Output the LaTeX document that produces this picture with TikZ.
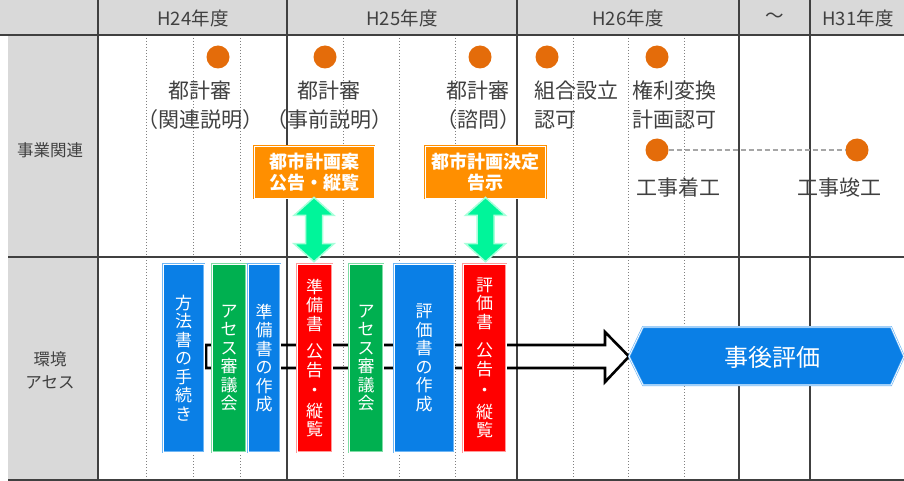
\documentclass[tikz,border=0pt]{standalone}
\usepackage{fontspec}
\setmainfont{Noto Sans CJK JP}
\usetikzlibrary{calc}
\definecolor{bggray}{HTML}{D9D9D9}
\definecolor{gridc}{HTML}{404040}
\definecolor{dotc}{HTML}{808080}
\definecolor{txtc}{HTML}{404040}
\definecolor{dotorange}{HTML}{E46C0A}
\definecolor{boxorange}{HTML}{FF8F00}
\definecolor{garrowf}{HTML}{00F59A}
\definecolor{garrowd}{HTML}{A8FFDA}
\definecolor{boxblue}{HTML}{0A7FE6}
\definecolor{rimblue}{HTML}{6EB6F5}
\definecolor{boxred}{HTML}{FF0000}
\definecolor{rimred}{HTML}{FF9A9A}
\definecolor{boxgreen}{HTML}{00B050}
\definecolor{rimgreen}{HTML}{7FDCA5}
\definecolor{dashc}{HTML}{A6A6A6}
\tikzset{
  solidgrid/.style={draw=gridc, line width=1.3pt},
  dotgrid/.style={draw=dotc, line width=1pt, dotted},
  dotmark/.style={circle, fill=dotorange, minimum size=23pt, inner sep=0pt},
  lbl/.style={text=txtc, inner sep=0pt, font=\fontsize{21pt}{29pt}\selectfont},
  hdr/.style={text=txtc, inner sep=0pt, font=\fontsize{18.5pt}{20pt}\selectfont},
  rowlbl/.style={text=txtc, inner sep=0pt, align=center, font=\fontsize{16.5pt}{23pt}\selectfont},
  obox/.style={draw=boxorange, double=white, double distance=0.8pt, line width=0.8pt, fill=boxorange,
    text=white, align=center, inner sep=0pt, minimum width=120pt, minimum height=52pt,
    font=\bfseries\fontsize{18pt}{21pt}\selectfont},
  vbox/.style={double=white, double distance=0.6pt, line width=0.6pt, text=white, align=center,
    inner sep=0pt, minimum height=188pt, font=\fontsize{17pt}{18.5pt}\selectfont},
  bluebox/.style={vbox, draw=rimblue, fill=boxblue},
  redbox/.style={vbox, draw=rimred, fill=boxred},
  greenbox/.style={vbox, draw=rimgreen, fill=boxgreen},
  garrow/.style={fill=garrowf, draw=garrowd, line width=1.5pt, line join=miter},
  hollow/.style={draw=black, line width=2.6pt, line join=miter},
}
\begin{document}
\begin{tikzpicture}[x=1pt,y=-1pt]
\useasboundingbox (0,0) rectangle (904,481);
% backgrounds
\fill[bggray] (0,0) rectangle (904,35);
\fill[bggray] (8,35) rectangle (98,480);
% dotted grid
\foreach \xx in {146,193,240,343,399,455,573,628,684}
  \draw[dotgrid] (\xx,35) -- (\xx,480);
% solid grid
\foreach \xx in {98,287,517,739,810}
  \draw[solidgrid] (\xx,0) -- (\xx,480);
\draw[solidgrid] (0,35) -- (904,35);
\draw[solidgrid] (8,257) -- (904,257);
\draw[solidgrid] (8,480) -- (904,480);
% header
\node[hdr] (h24) at (193,18) {H24年度};
\node[hdr] (h25) at (402,18) {H25年度};
\node[hdr] (h26) at (628,18) {H26年度};
\node[hdr] (htl) at (775,18) {～};
\node[hdr] (h31) at (858,18) {H31年度};
% row labels
\node[rowlbl] (r1) at (50,150) {事業関連};
\node[rowlbl] (r2) at (50,370) {環境\\アセス};
% dots
\node[dotmark] (d1) at (218,57) {};
\node[dotmark] (d2) at (325,57) {};
\node[dotmark] (d3) at (480,57) {};
\node[dotmark] (d4) at (547,57) {};
\node[dotmark] (d5) at (657,57) {};
\node[dotmark] (d6) at (657,150) {};
\node[dotmark] (d7) at (857,150) {};
\draw[dashc, line width=1.2pt, dash pattern=on 5pt off 3pt] (d6) -- (d7);
% row 1 texts
\node[lbl, align=center] (t1) at (200,105) {都計審\\（関連説明）};
\node[lbl, align=center] (t2) at (329,105) {都計審\\（事前説明）};
\node[lbl, align=center] (t3) at (478,105) {都計審\\（諮問）};
\node[lbl, align=left, anchor=west] (t4) at (534,105) {組合設立\\認可};
\node[lbl, align=left, anchor=west] (t5) at (632,105) {権利変換\\計画認可};
\node[lbl] (t6) at (678,188) {工事着工};
\node[lbl] (t7) at (839,188) {工事竣工};
% hollow arrow + post evaluation
\coordinate (astart) at (206,356.5);
\coordinate (ptip) at (629,356.5);
\draw[hollow] let \p1=(astart), \p2=(ptip) in
  (\x1,\y1+11.5pt) -- (\x2-24pt,\y1+11.5pt) -- (\x2-24pt,\y1+24.5pt) -- (\p2)
  -- (\x2-24pt,\y1-25.5pt) -- (\x2-24pt,\y1-11.5pt) -- (\x1,\y1-11.5pt) -- cycle;
\draw[draw=rimblue, line width=2pt, fill=boxblue] (ptip) -- (643,327) -- (891,327) -- (904,356.5) -- (891,385) -- (643,385) -- cycle;
\draw[draw=white, line width=0.7pt] (ptip) -- (643,327) -- (891,327) -- (904,356.5) -- (891,385) -- (643,385) -- cycle;
\node[text=white, inner sep=0pt, font=\fontsize{24pt}{28pt}\selectfont] (post) at (772,357) {事後評価};
% vertical boxes
\node[bluebox, minimum width=41pt] (b1) at (183.5,358) {方\\法\\書\\の\\手\\続\\き};
\node[greenbox, minimum width=34pt] (g1) at (229,358) {ア\\セ\\ス\\審\\議\\会};
\node[bluebox, minimum width=32pt] (b2) at (264,358) {準\\備\\書\\の\\作\\成};
\node[redbox, minimum width=35pt] (rb1) at (314.5,358) {準\\備\\書\\[9pt]公\\告\\[2pt]・\\[2pt]縦\\覧};
\node[greenbox, minimum width=34pt] (g2) at (366,358) {ア\\セ\\ス\\審\\議\\会};
\node[bluebox, minimum width=60pt] (b3) at (424,358) {評\\価\\書\\の\\作\\成};
\node[redbox, minimum width=43pt] (rb2) at (484.5,358) {評\\価\\書\\[10pt]公\\告\\[3pt]・\\[3pt]縦\\覧};
% orange boxes
\node[obox] (ob1) at (314,172) {都市計画案\\公告・縦覧};
\node[obox] (ob2) at (485.5,172) {都市計画決定\\告示};
% green double arrows
\foreach \top/\bot in {ob1/rb1, ob2/rb2}{
\draw[garrow] let \p1=($(\top.south)+(0,-1)$), \p2=($(\bot.north)+(0,-2)$) in
  (\p1) -- (\x1+20pt,\y1-18pt) -- (\x1+8.5pt,\y1-18pt) -- (\x1+8.5pt,\y2+18pt)
  -- (\x1+20pt,\y2+18pt) -- (\x1,\y2) -- (\x1-20pt,\y2+18pt) -- (\x1-8.5pt,\y2+18pt)
  -- (\x1-8.5pt,\y1-18pt) -- (\x1-20pt,\y1-18pt) -- cycle;
}
\end{tikzpicture}
\end{document}
